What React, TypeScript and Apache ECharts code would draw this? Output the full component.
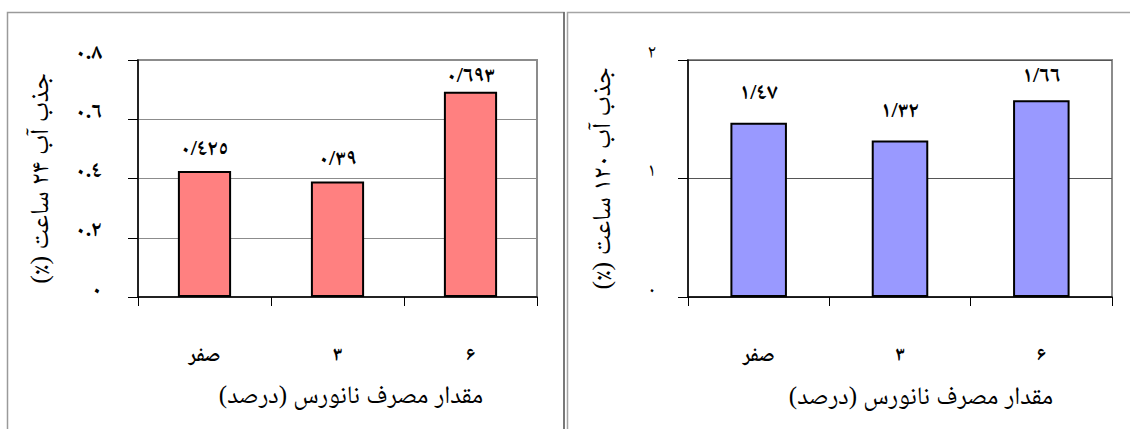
import React, { useEffect, useRef } from "react";
import * as echarts from "echarts";

const categories = ["صفر", "۳", "۶"];
const values24h = [0.425, 0.39, 0.693];
const values120h = [1.47, 1.32, 1.66];
const yTitle24 = "جذب آب ۲۴ ساعت (٪)\u200F";
const yTitle120 = "جذب آب ۱۲۰ ساعت (٪)\u200F";
const xTitle = "مقدار مصرف نانورس (درصد)\u200F";

const AR = ["٠", "١", "٢", "٣", "٤", "٥", "٦", "٧", "٨", "٩"];
const toAr = (s: string) => s.replace(/\d/g, (d) => AR[+d]);

const FONT = "'Times New Roman', 'Liberation Serif', 'Noto Naskh Arabic', 'Noto Sans Arabic', 'DejaVu Sans', serif";

export default function App() {
  const ref = useRef<HTMLDivElement>(null);
  useEffect(() => {
    if (!ref.current) return;
    const chart = echarts.init(ref.current, null, { renderer: "svg" });
    const plotTop = 60;
    const plotBottom = 297;
    const plotH = plotBottom - plotTop;

    const labelDist = (v: number, max: number, base: number) => {
      const room = ((max - v) * plotH) / max;
      return Math.max(4, Math.min(base, room - 20 - 4));
    };

    const makeData = (vals: number[], max: number, base: number) =>
      vals.map((v) => ({ value: v, label: { distance: labelDist(v, max, base) } }));

    chart.setOption({
      animation: false,
      backgroundColor: "#ffffff",
      textStyle: { fontFamily: FONT },
      grid: [
        {
          left: 138,
          right: 1130 - 537,
          top: plotTop,
          bottom: 429 - plotBottom,
          show: true,
          borderColor: "#8c8c8c",
          borderWidth: 2,
          backgroundColor: "#ffffff",
        },
        {
          left: 688,
          right: 1130 - 1112,
          top: plotTop,
          bottom: 429 - plotBottom,
          show: true,
          borderColor: "#8c8c8c",
          borderWidth: 2,
          backgroundColor: "#ffffff",
        },
      ],
      xAxis: [0, 1].map((i) => ({
        type: "category",
        gridIndex: i,
        data: categories,
        boundaryGap: true,
        axisLine: { lineStyle: { color: "#000", width: 1.5 } },
        axisTick: { show: true, length: 9, inside: false, lineStyle: { color: "#000", width: 1 } },
        axisLabel: {
          margin: 47,
          fontSize: 20,
          fontWeight: "bold",
          color: "#000",
          fontFamily: FONT,
        },
        splitLine: { show: false },
      })),
      yAxis: [
        {
          type: "value",
          gridIndex: 0,
          min: 0,
          max: 0.8,
          interval: 0.2,
          name: yTitle24,
          nameLocation: "middle",
          nameRotate: 90,
          nameGap: 86,
          nameTextStyle: { fontSize: 26, color: "#000", fontFamily: FONT },
          axisLine: { show: true, lineStyle: { color: "#000", width: 1.5 } },
          axisTick: { show: true, length: 10, lineStyle: { color: "#000" } },
          axisLabel: {
            margin: 36,
            fontSize: 22,
            fontWeight: "bold",
            color: "#000",
            verticalAlign: "bottom",
            lineHeight: 18,
            fontFamily: FONT,
            formatter: (v: number) => toAr(String(+v.toFixed(1))),
          },
          splitLine: { show: true, lineStyle: { color: "#8c8c8c", width: 1 } },
        },
        {
          type: "value",
          gridIndex: 1,
          min: 0,
          max: 2,
          interval: 1,
          name: yTitle120,
          nameLocation: "middle",
          nameRotate: 90,
          nameGap: 74,
          nameTextStyle: { fontSize: 26, color: "#000", fontFamily: FONT },
          axisLine: { show: true, lineStyle: { color: "#000", width: 1.5 } },
          axisTick: { show: true, length: 10, lineStyle: { color: "#000" } },
          axisLabel: {
            margin: 32,
            fontSize: 19,
            color: "#000",
            verticalAlign: "bottom",
            lineHeight: 18,
            fontFamily: FONT,
            formatter: (v: number) => toAr(String(v)),
          },
          splitLine: { show: true, lineStyle: { color: "#555", width: 1 } },
        },
      ],
      series: [
        {
          type: "bar",
          xAxisIndex: 0,
          yAxisIndex: 0,
          data: makeData(values24h, 0.8, 14),
          barWidth: "40%",
          itemStyle: { color: "#FF8080", borderColor: "#000", borderWidth: 2 },
          label: {
            show: true,
            position: "top",
            fontSize: 22,
            lineHeight: 20,
            fontWeight: "bold",
            color: "#000",
            fontFamily: FONT,
            formatter: (p: any) => toAr(String(p.value)).replace(".", "/"),
          },
        },
        {
          type: "bar",
          xAxisIndex: 1,
          yAxisIndex: 1,
          data: makeData(values120h, 2, 21),
          barWidth: "40%",
          itemStyle: { color: "#9999FF", borderColor: "#000", borderWidth: 2 },
          label: {
            show: true,
            position: "top",
            fontSize: 22,
            lineHeight: 20,
            fontWeight: "bold",
            color: "#000",
            fontFamily: FONT,
            formatter: (p: any) => toAr(String(p.value)).replace(".", "/"),
          },
        },
      ],
      graphic: [
        {
          type: "rect",
          shape: { x: 7.5, y: 12.5, width: 556.5, height: 440 },
          style: { fill: "none", stroke: "#9a9a9a", lineWidth: 1.5 },
          z: 100,
        },
        {
          type: "line",
          shape: { x1: 564, y1: 12, x2: 564, y2: 440 },
          style: { stroke: "#666", lineWidth: 1.5 },
          z: 101,
        },
        {
          type: "rect",
          shape: { x: 567.5, y: 12.5, width: 600, height: 440 },
          style: { fill: "none", stroke: "#a5a5a5", lineWidth: 1.5 },
          z: 100,
        },
        {
          type: "text",
          x: 351,
          y: 394,
          style: {
            text: xTitle,
            fontSize: 25,
            fontFamily: FONT,
            fill: "#000",
            align: "center",
            verticalAlign: "middle",
          },
          z: 100,
        },
        {
          type: "text",
          x: 921,
          y: 395,
          style: {
            text: xTitle,
            fontSize: 25,
            fontFamily: FONT,
            fill: "#000",
            align: "center",
            verticalAlign: "middle",
          },
          z: 100,
        },
      ],
    });
    return () => chart.dispose();
  }, []);

  return (
    <div
      ref={ref}
      style={{ position: "fixed", left: 0, top: 0, width: 1130, height: 429, background: "#fff" }}
    />
  );
}
